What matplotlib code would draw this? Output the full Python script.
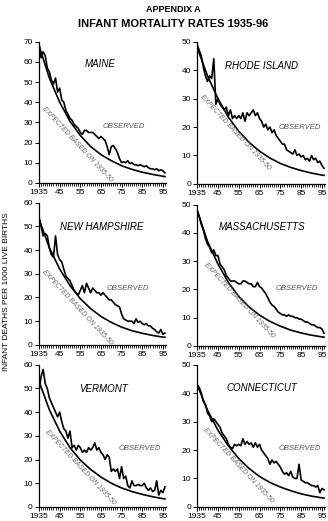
import matplotlib
matplotlib.use("Agg")
import matplotlib.pyplot as plt
from matplotlib.ticker import MultipleLocator

plt.rcParams['font.family'] = ['Liberation Sans', 'DejaVu Sans']

years = list(range(1935, 1997))
exp_years = [1935, 1940, 1945, 1950, 1955, 1960, 1965, 1970, 1975, 1980, 1985, 1990, 1995, 1996]

maine_obs = [69, 62, 65, 63, 57, 55, 51, 49, 52, 45, 47, 41, 40, 36, 34, 32, 31, 29, 28, 27,
             25, 24, 26, 26, 25, 25, 25, 24, 23, 22, 23, 22, 21, 18, 14, 18, 18.5, 17, 15, 12,
             10, 10.5, 10, 11, 9.5, 10, 9, 9, 8.5, 9, 8.5, 8, 8.5, 7.5, 7, 7, 6.5, 7, 6, 6.5,
             6, 5]
maine_exp = [68, 52, 40, 30.5, 23.5, 18, 14, 11, 8.5, 6.7, 5.3, 4.2, 3.3, 3.1]

ri_obs = [49, 47, 45, 41, 38, 36, 38, 37, 44, 28, 30, 28, 27, 26, 27, 24, 26, 23, 24, 23,
          24, 23, 25, 22, 25, 24, 25, 26, 24, 25, 23, 22, 20, 21, 19, 20, 18, 19, 17, 16,
          15, 14, 14, 12, 11.5, 11, 10.5, 12, 10, 10.5, 9.5, 10, 8.5, 9, 8, 10, 8.5, 9, 7.5, 8,
          6.5, 5.5]
ri_exp = [48, 38, 30, 23.5, 18.5, 14.6, 11.5, 9.1, 7.2, 5.8, 4.7, 3.8, 3.1, 3.0]

nh_obs = [54, 50, 46, 47, 46, 41, 38, 37, 46, 38, 36, 35, 32, 29, 28, 27, 25, 23, 22, 21,
          23, 25, 22, 26, 24, 22, 24, 23, 22, 22, 21, 22, 21, 20, 19, 19, 18, 17, 16.5, 16,
          13, 11, 10.5, 10, 10, 10, 9, 11, 9.5, 10, 9, 8.5, 9, 8, 8, 7, 6.5, 5.5, 5, 6.5,
          4.5, 5]
nh_exp = [53, 41, 32, 25, 19.5, 15.3, 12, 9.5, 7.5, 6, 4.9, 4, 3.3, 3.2]

ma_obs = [48, 46, 43, 41, 38, 36, 35, 33, 34, 32, 32, 29, 28, 27, 25, 24, 23, 23, 23, 22.5,
          22, 22, 23, 23, 22.5, 22, 22, 21, 21, 22.5, 21, 20.5, 19.5, 18.5, 17, 15.5, 14.5, 14, 13, 12,
          11.5, 11, 11, 10.5, 11, 10.5, 10.5, 10, 10, 9.5, 9.5, 9, 8.5, 8.5, 8, 7.5, 7.5, 7, 6.5, 6.5,
          6, 4.5]
ma_exp = [48, 37, 29, 22.5, 17.5, 13.8, 10.9, 8.7, 7, 5.6, 4.6, 3.8, 3.2, 3.1]

vt_obs = [49, 55, 58, 52, 50, 46, 44, 42, 40, 38, 40, 36, 33, 32, 29, 32, 25, 26, 24, 26,
          25, 23, 24, 23, 25, 24, 25, 27, 24, 25, 23, 22, 20, 22, 21, 15, 16, 15, 16, 12,
          17, 12, 13, 9, 8, 11, 9, 9, 9.5, 9, 9, 10, 8, 7, 8, 6.5, 7, 11, 5, 7,
          6, 8.5]
vt_exp = [53, 41, 32, 25, 19.8, 15.8, 12.6, 10, 8, 6.5, 5.3, 4.3, 3.5, 3.4]

ct_obs = [43, 42, 40, 37, 36, 33, 32, 30, 31, 30, 29, 28, 26, 25, 24, 22, 21, 20.5, 22, 21.5,
          22, 21.5, 24, 22, 23, 22, 22.5, 21, 22.5, 21, 22, 20, 19, 18, 17, 15, 16.5, 15.5, 16, 15,
          14, 12.5, 11.5, 12, 11, 12.5, 10.5, 10, 10, 15, 9.5, 9, 8.5, 8.5, 8, 7.5, 7.5, 7, 7.5, 5,
          6.5, 6]
ct_exp = [43, 34, 27, 21.5, 17, 13.5, 10.7, 8.6, 7, 5.7, 4.6, 3.8, 3.2, 3.1]

states = ["MAINE", "RHODE ISLAND", "NEW HAMPSHIRE", "MASSACHUSETTS", "VERMONT", "CONNECTICUT"]
observed = [maine_obs, ri_obs, nh_obs, ma_obs, vt_obs, ct_obs]
expected = [maine_exp, ri_exp, nh_exp, ma_exp, vt_exp, ct_exp]
ymax = [70, 50, 60, 50, 60, 50]

xtick_pos = [1935, 1945, 1955, 1965, 1975, 1985, 1995]
xtick_lab = ["1935", "45", "55", "65", "75", "85", "95"]

# panel boxes in figure fractions: left, bottom, width, height
boxes = [
    [0.119, 0.649, 0.387, 0.271],
    [0.601, 0.647, 0.390, 0.273],
    [0.119, 0.338, 0.387, 0.273],
    [0.601, 0.336, 0.390, 0.271],
    [0.119, 0.027, 0.387, 0.273],
    [0.601, 0.027, 0.390, 0.273],
]
# label spots in axes fractions
name_xy = [(0.48, 0.84), (0.505, 0.83), (0.49, 0.83), (0.505, 0.84), (0.51, 0.83), (0.505, 0.835)]
obs_xy = [(0.67, 0.40), (0.80, 0.40), (0.70, 0.40), (0.78, 0.41), (0.79, 0.41), (0.80, 0.41)]
exp_xy = [(0.30, 0.27), (0.30, 0.36), (0.30, 0.26), (0.33, 0.32), (0.32, 0.28), (0.32, 0.29)]

fig = plt.figure(figsize=(3.28, 5.21), dpi=100)

for i in range(6):
    ax = fig.add_axes(boxes[i])
    ax.plot(years, observed[i], color="black", lw=1.2)
    ax.plot(exp_years, expected[i], color="black", lw=1.2)
    ax.set_xlim(1935, 1996.5)
    ax.set_ylim(0, ymax[i])
    ax.spines["top"].set_visible(False)
    ax.spines["right"].set_visible(False)
    ax.spines["left"].set_linewidth(0.9)
    ax.spines["bottom"].set_linewidth(0.9)
    ax.set_xticks(xtick_pos)
    ax.set_xticklabels(xtick_lab)
    ax.xaxis.set_minor_locator(MultipleLocator(1))
    ax.yaxis.set_major_locator(MultipleLocator(10))
    ax.tick_params(axis="both", which="major", direction="out", length=3, width=0.7,
                   labelsize=6, pad=1.5)
    ax.tick_params(axis="x", which="minor", direction="out", length=2.5, width=0.6)
    ax.text(*name_xy[i], states[i], transform=ax.transAxes, ha="center", va="center",
            fontsize=7, style="italic")
    ax.text(*obs_xy[i], "OBSERVED", transform=ax.transAxes, ha="center", va="center",
            fontsize=5.5, style="italic", color="#555555")
    ax.text(*exp_xy[i], "EXPECTED BASED ON 1935-50", transform=ax.transAxes, ha="center",
            va="center", fontsize=4.9, style="italic", color="#666666", rotation=-47,
            rotation_mode="anchor")

fig.text(0.527, 0.981, "APPENDIX A", ha="center", va="center", fontsize=6.5, weight="bold")
fig.text(0.527, 0.954, "INFANT MORTALITY RATES 1935-96", ha="center", va="center",
         fontsize=8, weight="bold")
fig.text(0.02, 0.44, "INFANT DEATHS PER 1000 LIVE BIRTHS", ha="center", va="center",
         rotation=90, fontsize=6)

fig.savefig("out.png", dpi=100)
